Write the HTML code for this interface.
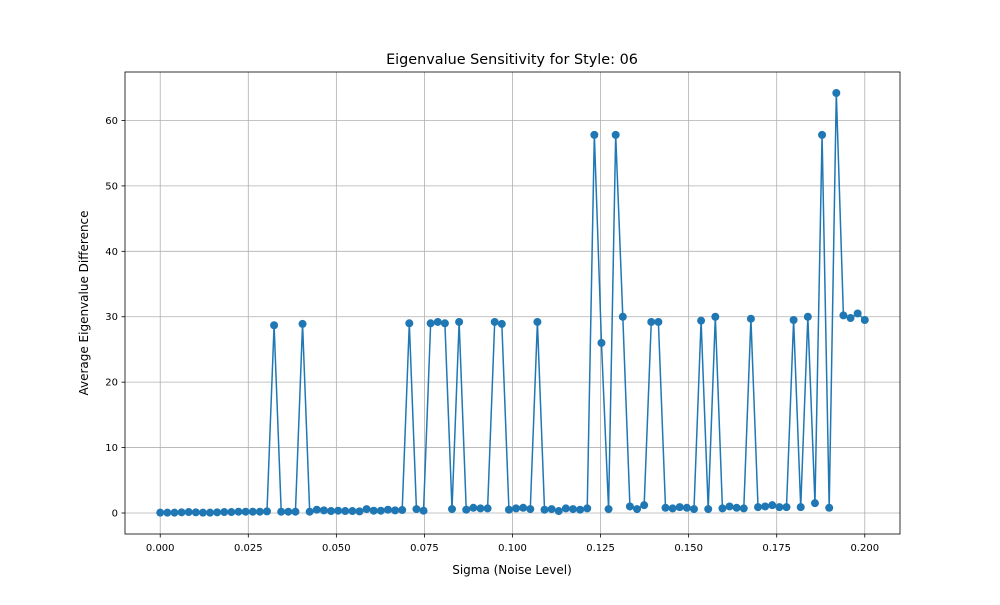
<!DOCTYPE html>
<html><head><meta charset="utf-8"><style>
body{margin:0;background:#fff;font-family:"Liberation Sans","DejaVu Sans",sans-serif}
text{font-family:"DejaVu Sans","Liberation Sans",sans-serif}
</style></head><body>
<svg id="chart" width="1000" height="600" xmlns="http://www.w3.org/2000/svg">
<rect width="1000" height="600" fill="#fff"/>
<text x="512" y="64" text-anchor="middle" font-size="14.4">Eigenvalue Sensitivity for Style: 06</text>
<g id="grid"></g><g id="axes"></g><g id="series"></g>
<rect x="125" y="72" width="775" height="462" fill="none" stroke="#000" stroke-width="0.8"/>
<text x="512" y="574" text-anchor="middle" font-size="12">Sigma (Noise Level)</text>
<text transform="translate(88,303) rotate(-90)" text-anchor="middle" font-size="12">Average Eigenvalue Difference</text>
</svg>
<script>
const values=[0.05,0.05,0.05,0.1,0.15,0.1,0.05,0.05,0.1,0.15,0.15,0.2,0.2,0.2,0.2,0.25,
28.7,0.2,0.2,0.2,28.9,
0.2,0.5,0.4,0.3,0.35,0.3,0.3,0.25,0.6,0.35,0.35,0.5,0.4,0.45,
29.0,0.6,0.35,29.0,29.2,29.0,0.6,29.2,0.5,0.8,0.7,0.7,29.2,28.9,0.5,0.7,0.8,0.6,29.2,0.5,0.6,0.3,0.7,0.6,0.5,0.7,
57.8,26.0,0.6,57.8,30.0,1.0,0.6,1.2,29.2,29.2,0.8,0.7,0.9,0.8,0.6,29.4,0.6,30.0,0.7,1.0,0.8,0.7,29.7,0.9,1.0,1.2,0.9,0.9,29.5,0.9,30.0,1.5,57.8,0.8,64.2,30.2,29.8,30.5,29.5];
const xTicks=[0,0.025,0.05,0.075,0.1,0.125,0.15,0.175,0.2];
const xTickLabels=["0.000","0.025","0.050","0.075","0.100","0.125","0.150","0.175","0.200"];
const yTicks=[0,10,20,30,40,50,60];
const yTickLabels=["0","10","20","30","40","50","60"];
const xMin=-0.01,xMax=0.21,yMin=-3.21,yMax=67.41;
const L=125,R=900,T=72,B=534;
const sx=v=>L+(v-xMin)/(xMax-xMin)*(R-L);
const sy=v=>B-(v-yMin)/(yMax-yMin)*(B-T);
const NS="http://www.w3.org/2000/svg";
function mk(tag,attrs,parent){const e=document.createElementNS(NS,tag);for(const k in attrs)e.setAttribute(k,attrs[k]);parent.appendChild(e);return e;}
const grid=document.getElementById('grid'),axes=document.getElementById('axes'),ser=document.getElementById('series');
xTicks.forEach((t,i)=>{const x=sx(t);
 let g=mk('line',{x1:x,x2:x,y1:T,y2:B,stroke:'#b0b0b0','stroke-width':0.8},grid);
 
 
 let tk=mk('line',{x1:x,x2:x,y1:B,y2:B+3.5,stroke:'#000','stroke-width':0.8},axes);
 
 
 let lb=mk('text',{x:x,y:B+17,'text-anchor':'middle','font-size':10},axes);lb.textContent=xTickLabels[i];
 
 
});
yTicks.forEach((t,i)=>{const y=sy(t);
 let g=mk('line',{x1:L,x2:R,y1:y,y2:y,stroke:'#b0b0b0','stroke-width':0.8},grid);
 
 
 let tk=mk('line',{x1:L-3.5,x2:L,y1:y,y2:y,stroke:'#000','stroke-width':0.8},axes);
 
 
 let lb=mk('text',{x:L-7,y:y+3.5,'text-anchor':'end','font-size':10},axes);lb.textContent=yTickLabels[i];
 
 
});
const n=values.length;
const xs=values.map((v,i)=>0.2*i/(n-1));
const pts=values.map((v,i)=>sx(xs[i]).toFixed(2)+','+sy(v).toFixed(2)).join(' ');
const line=mk('polyline',{points:pts,fill:'none',stroke:'#1f77b4','stroke-width':1.5},ser);


values.forEach((v,i)=>{
 const c=mk('circle',{cx:sx(xs[i]),cy:sy(v),r:4,fill:'#1f77b4'},ser);
 
 
});
</script>
</body></html>
